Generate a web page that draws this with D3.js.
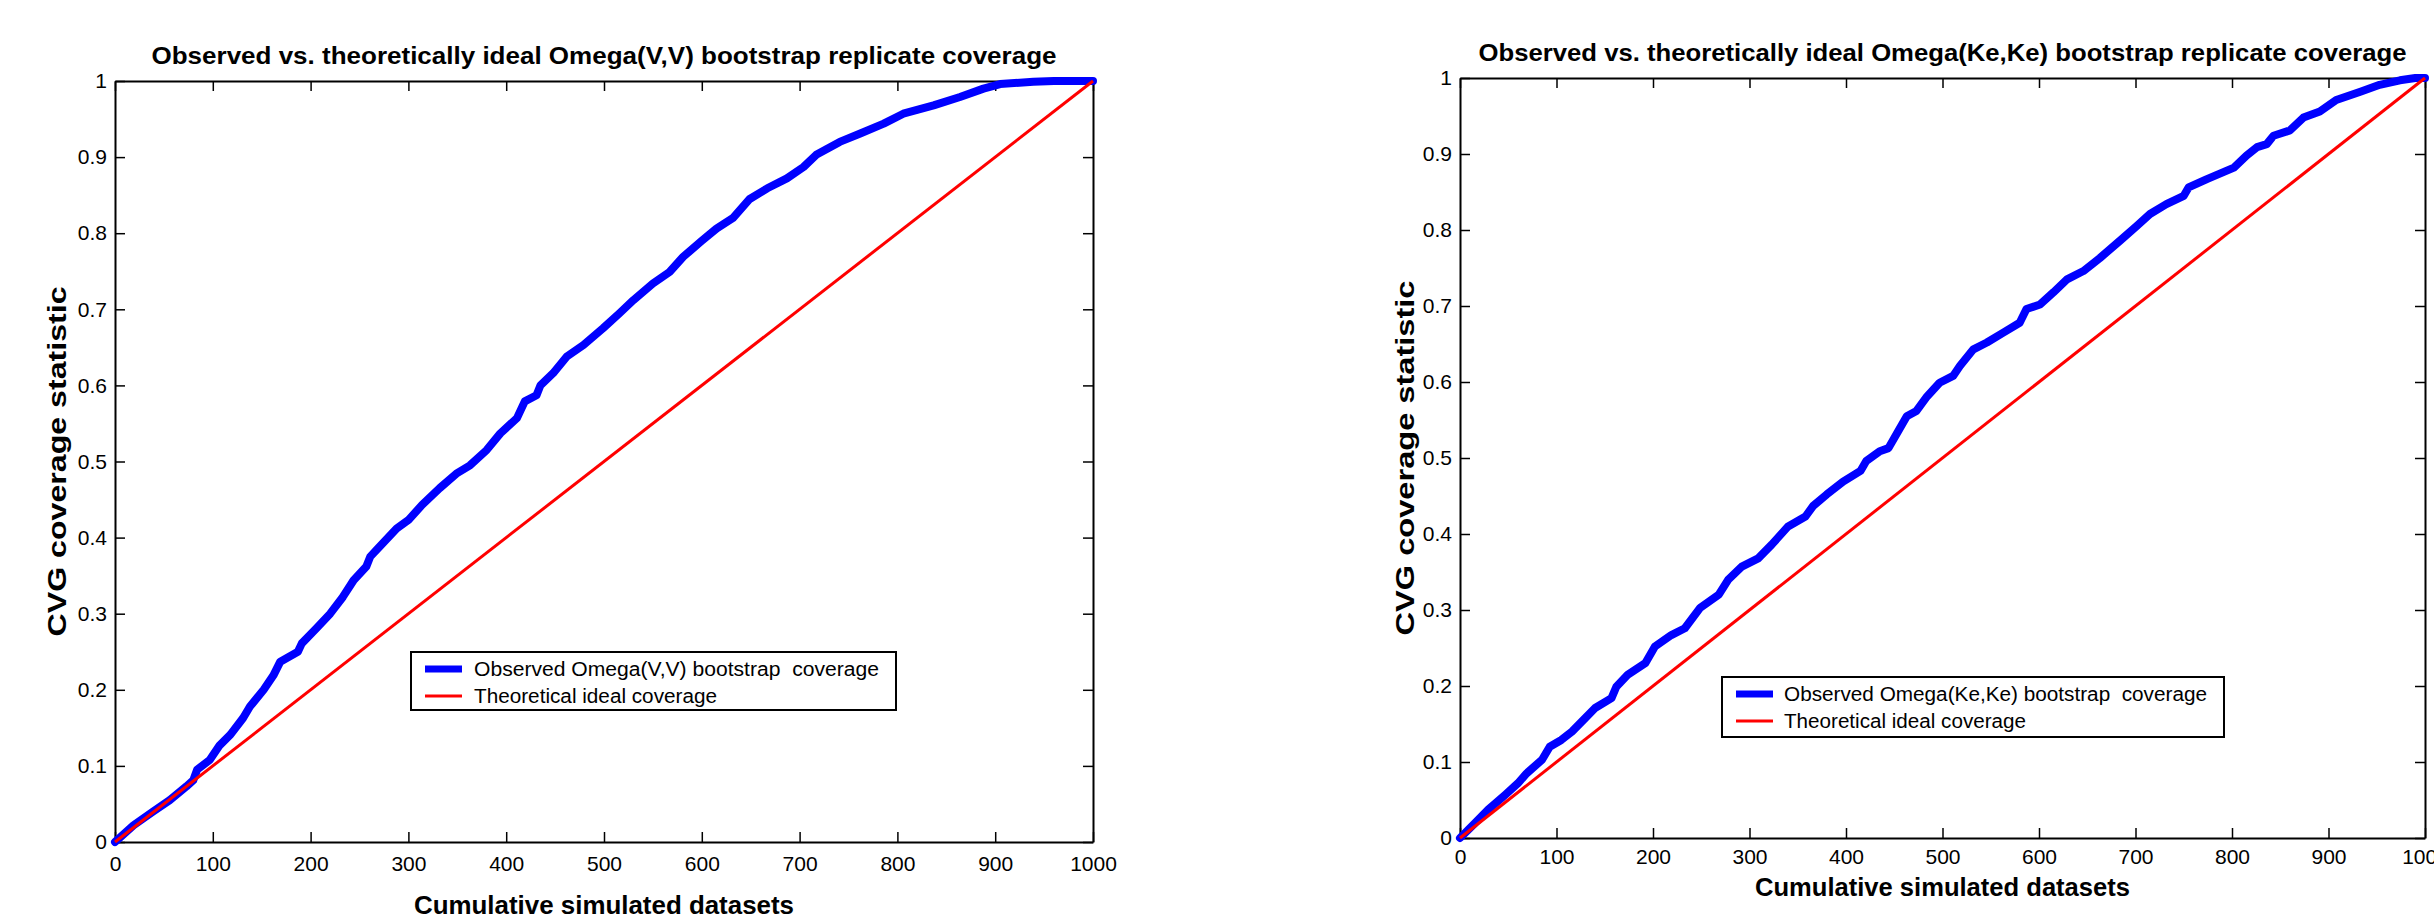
<!DOCTYPE html>
<html>
<head>
<meta charset="utf-8">
<script src="https://cdn.jsdelivr.net/npm/d3@7"></script>
<style>
  body { margin: 0; background: #fff; }
  svg { display: block; }
  text { font-family: "Liberation Sans", Arial, Helvetica, sans-serif; fill: #000; }
</style>
</head>
<body>
<div id="chart"></div>
<script>
// tick values shared by both panels
var xTicks = [0, 100, 200, 300, 400, 500, 600, 700, 800, 900, 1000];
var yTicks = [0, 0.1, 0.2, 0.3, 0.4, 0.5, 0.6, 0.7, 0.8, 0.9, 1];

// observed coverage, Omega(V,V)
var vvDatasets = [0, 19, 39, 56, 73, 80, 84, 97, 107, 118, 131, 138, 152, 162, 169, 187, 191, 206, 220, 233, 244, 257, 261, 269, 288, 300, 314, 332, 349, 363, 380, 394, 411, 419, 431, 435, 448, 462, 479, 499, 516, 530, 550, 567, 581, 600, 615, 632, 649, 667, 687, 704, 717, 741, 762, 786, 806, 837, 864, 888, 905, 939, 960, 1000];
var vvCoverage = [0, 0.022, 0.040, 0.055, 0.073, 0.081, 0.095, 0.108, 0.127, 0.141, 0.163, 0.178, 0.200, 0.219, 0.237, 0.250, 0.261, 0.281, 0.300, 0.322, 0.344, 0.362, 0.375, 0.386, 0.412, 0.423, 0.443, 0.465, 0.484, 0.495, 0.515, 0.537, 0.557, 0.579, 0.587, 0.600, 0.616, 0.638, 0.653, 0.675, 0.695, 0.712, 0.734, 0.749, 0.769, 0.790, 0.806, 0.820, 0.845, 0.859, 0.872, 0.887, 0.903, 0.920, 0.931, 0.944, 0.957, 0.968, 0.979, 0.990, 0.996, 0.999, 1.0, 1.0];

// observed coverage, Omega(Ke,Ke)
var keDatasets = [0, 15, 29, 47, 60, 69, 85, 93, 105, 116, 130, 140, 157, 162, 174, 192, 202, 219, 233, 249, 268, 278, 292, 309, 323, 340, 358, 366, 380, 397, 415, 421, 435, 444, 453, 463, 473, 484, 497, 511, 518, 532, 546, 563, 580, 587, 601, 615, 629, 646, 663, 684, 701, 715, 732, 750, 755, 774, 802, 815, 826, 836, 843, 860, 874, 891, 908, 933, 953, 974, 990, 1000];
var keCoverage = [0, 0.019, 0.037, 0.057, 0.072, 0.085, 0.103, 0.120, 0.129, 0.140, 0.158, 0.171, 0.184, 0.199, 0.215, 0.230, 0.252, 0.267, 0.276, 0.303, 0.320, 0.340, 0.357, 0.368, 0.386, 0.410, 0.423, 0.437, 0.452, 0.469, 0.483, 0.496, 0.509, 0.513, 0.533, 0.555, 0.562, 0.581, 0.599, 0.608, 0.621, 0.643, 0.652, 0.665, 0.678, 0.696, 0.702, 0.718, 0.735, 0.746, 0.763, 0.786, 0.805, 0.821, 0.834, 0.845, 0.856, 0.867, 0.882, 0.898, 0.909, 0.913, 0.924, 0.931, 0.948, 0.956, 0.971, 0.982, 0.991, 0.997, 1.0, 1.0];

// theoretical ideal coverage (diagonal)
var idealDatasets = [0, 1000];
var idealCoverage = [0, 1];

var svg = d3.select("#chart").append("svg").attr("width", 2434).attr("height", 922);

var panels = [
    {
        left: 115, right: 1093, top: 81, bottom: 842,
        title: "Observed vs. theoretically ideal Omega(V,V) bootstrap replicate coverage",
        titleY: 64, titleLen: 905,
        xLabelY: 914, xLabelLen: 380, xPad: 14,
        yLabelX: 66, yLabelLen: 350,
        obsX: vvDatasets, obsY: vvCoverage,
        legend: {x: 411, y: 652, w: 485, h: 58, row1: 669, row2: 696, lineX: 425, lineW: 37, textX: 474,
                 obs: "Observed Omega(V,V) bootstrap  coverage", obsLen: 405, idealLen: 243}
    },
    {
        left: 1460, right: 2425, top: 78, bottom: 838,
        title: "Observed vs. theoretically ideal Omega(Ke,Ke) bootstrap replicate coverage",
        titleY: 61, titleLen: 928,
        xLabelY: 896, xLabelLen: 375, xPad: 11,
        yLabelX: 1414, yLabelLen: 355,
        obsX: keDatasets, obsY: keCoverage,
        legend: {x: 1722, y: 677, w: 502, h: 60, row1: 694, row2: 721, lineX: 1736, lineW: 37, textX: 1784,
                 obs: "Observed Omega(Ke,Ke) bootstrap  coverage", obsLen: 423, idealLen: 242}
    }
];

panels.forEach(function (p) {
    var x = d3.scaleLinear().domain([0, 1000]).range([p.left, p.right]);
    var y = d3.scaleLinear().domain([0, 1]).range([p.bottom, p.top]);
    var g = svg.append("g");

    // axes: ticks point inwards on all four sides (box style)
    var bottomAxis = g.append("g").attr("transform", "translate(0," + p.bottom + ")")
        .call(d3.axisBottom(x).tickValues(xTicks).tickSize(-10).tickSizeOuter(0).tickPadding(p.xPad).tickFormat(d3.format("d")));
    var topAxis = g.append("g").attr("transform", "translate(0," + p.top + ")")
        .call(d3.axisTop(x).tickValues(xTicks).tickSize(-10).tickSizeOuter(0).tickFormat(""));
    var leftAxis = g.append("g").attr("transform", "translate(" + p.left + ",0)")
        .call(d3.axisLeft(y).tickValues(yTicks).tickSize(-10).tickSizeOuter(0).tickPadding(8).tickFormat(d3.format("")));
    var rightAxis = g.append("g").attr("transform", "translate(" + p.right + ",0)")
        .call(d3.axisRight(y).tickValues(yTicks).tickSize(-10).tickSizeOuter(0).tickFormat(""));

    [bottomAxis, topAxis, leftAxis, rightAxis].forEach(function (a) {
        a.select(".domain").attr("stroke", "#000").attr("stroke-width", 2);
        a.selectAll(".tick line").attr("stroke", "#000").attr("stroke-width", 1.5);
        a.selectAll(".tick text").style("font-size", "21px").style("font-family", "'Liberation Sans', Arial, sans-serif").attr("fill", "#000");
    });

    // lines
    var line = d3.line().x(function (d) { return x(d[0]); }).y(function (d) { return y(d[1]); });
    var obs = p.obsX.map(function (v, i) { return [v, p.obsY[i]]; });
    var ideal = idealDatasets.map(function (v, i) { return [v, idealCoverage[i]]; });

    g.append("path").datum(obs).attr("d", line).attr("fill", "none")
        .attr("stroke", "#0000ff").attr("stroke-width", 8).attr("stroke-linejoin", "round").attr("stroke-linecap", "round");
    g.append("path").datum(ideal).attr("d", line).attr("fill", "none")
        .attr("stroke", "#ff0000").attr("stroke-width", 3);

    // titles and labels
    var cx = (p.left + p.right) / 2;
    var cy = (p.top + p.bottom) / 2;
    g.append("text").attr("x", cx).attr("y", p.titleY).attr("text-anchor", "middle")
        .attr("textLength", p.titleLen).attr("lengthAdjust", "spacingAndGlyphs")
        .style("font-size", "24px").style("font-weight", "bold").text(p.title);
    g.append("text").attr("x", cx).attr("y", p.xLabelY).attr("text-anchor", "middle")
        .attr("textLength", p.xLabelLen).attr("lengthAdjust", "spacingAndGlyphs")
        .style("font-size", "25px").style("font-weight", "bold").text("Cumulative simulated datasets");
    g.append("text").attr("transform", "translate(" + p.yLabelX + "," + cy + ") rotate(-90)").attr("text-anchor", "middle")
        .attr("textLength", p.yLabelLen).attr("lengthAdjust", "spacingAndGlyphs")
        .style("font-size", "25px").style("font-weight", "bold").text("CVG coverage statistic");

    // legend
    var L = p.legend;
    g.append("rect").attr("x", L.x).attr("y", L.y).attr("width", L.w).attr("height", L.h)
        .attr("fill", "#fff").attr("stroke", "#000").attr("stroke-width", 2);
    g.append("line").attr("x1", L.lineX).attr("x2", L.lineX + L.lineW).attr("y1", L.row1).attr("y2", L.row1)
        .attr("stroke", "#0000ff").attr("stroke-width", 7);
    g.append("line").attr("x1", L.lineX).attr("x2", L.lineX + L.lineW).attr("y1", L.row2).attr("y2", L.row2)
        .attr("stroke", "#ff0000").attr("stroke-width", 3);
    g.append("text").attr("x", L.textX).attr("y", L.row1 + 7).attr("textLength", L.obsLen).attr("lengthAdjust", "spacingAndGlyphs")
        .style("font-size", "20px").style("white-space", "pre").text(L.obs);
    g.append("text").attr("x", L.textX).attr("y", L.row2 + 7).attr("textLength", L.idealLen).attr("lengthAdjust", "spacingAndGlyphs")
        .style("font-size", "20px").text("Theoretical ideal coverage");
});
</script>
</body>
</html>
